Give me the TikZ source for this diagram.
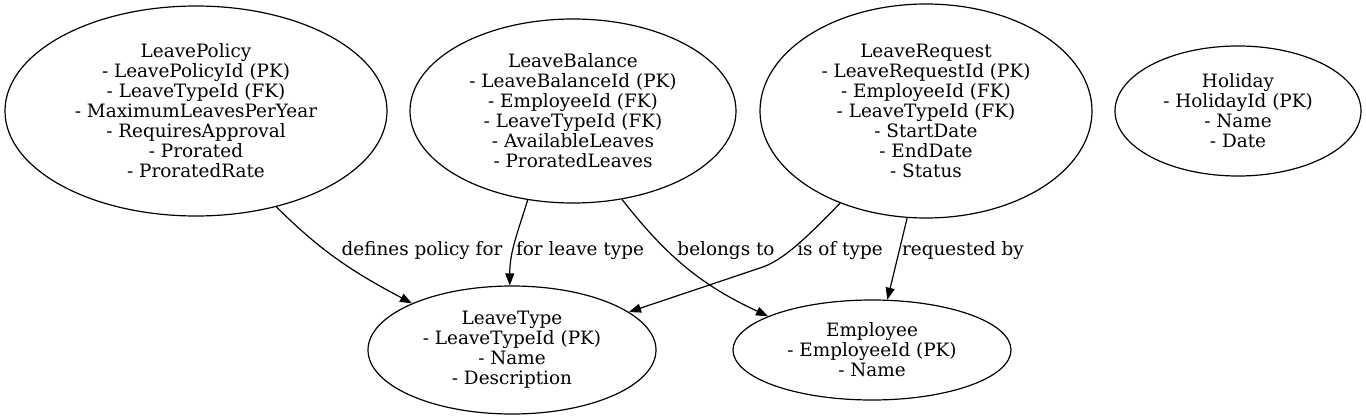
\documentclass[tikz,border=0pt]{standalone}
\usepackage{fontspec}
\setmainfont{DejaVu Serif}
\usetikzlibrary{shapes.geometric,arrows.meta}
\begin{document}
\begin{tikzpicture}[x=1pt,y=-1pt,
  ent/.style={draw,ellipse,inner sep=0pt,align=center,line width=1.2pt,
    font=\fontsize{18.4}{20}\selectfont},
  rel/.style={line width=1.2pt,-{Triangle[length=12pt,width=9pt]}},
  lbl/.style={font=\fontsize{18.4}{20}\selectfont,inner sep=0pt}]
\useasboundingbox (0,0) rectangle (1366,420);
\node[ent,minimum width=382pt,minimum height=210pt] (lp) at (196,111)
  {LeavePolicy\\- LeavePolicyId (PK)\\- LeaveTypeId (FK)\\- MaximumLeavesPerYear\\- RequiresApproval\\- Prorated\\- ProratedRate};
\node[ent,minimum width=326pt,minimum height=184pt] (lb) at (573,111)
  {LeaveBalance\\- LeaveBalanceId (PK)\\- EmployeeId (FK)\\- LeaveTypeId (FK)\\- AvailableLeaves\\- ProratedLeaves};
\node[ent,minimum width=332pt,minimum height=214pt] (lr) at (926,111)
  {LeaveRequest\\- LeaveRequestId (PK)\\- EmployeeId (FK)\\- LeaveTypeId (FK)\\- StartDate\\- EndDate\\- Status};
\node[ent,minimum width=246pt,minimum height=130pt] (ho) at (1238,111)
  {Holiday\\- HolidayId (PK)\\- Name\\- Date};
\node[ent,minimum width=288pt,minimum height=128pt] (lt) at (512,350)
  {LeaveType\\- LeaveTypeId (PK)\\- Name\\- Description};
\node[ent,minimum width=278pt,minimum height=100pt] (em) at (872,350)
  {Employee\\- EmployeeId (PK)\\- Name};
\draw[rel] (lp.-50) to[out=-45,in=152] (lt.155);
\draw[rel] (lb.-117) to[out=-107,in=90] (lt.92);
\draw[rel] (lb.-61) to[out=-52,in=155] (em.162);
\draw[rel] (lr.-133) .. controls (795,250) and (778,262) .. (760,268) -- (lt.18);
\draw[rel] (lr.-100) -- (em.73);
\node[lbl] (l1) at (422,251) {defines policy for};
\node[lbl] (l2) at (580,251) {for leave type};
\node[lbl] (l3) at (726,251) {belongs to};
\node[lbl] (l4) at (840,251) {is of type};
\node[lbl] (l5) at (963,251) {requested by};
\end{tikzpicture}
\end{document}
